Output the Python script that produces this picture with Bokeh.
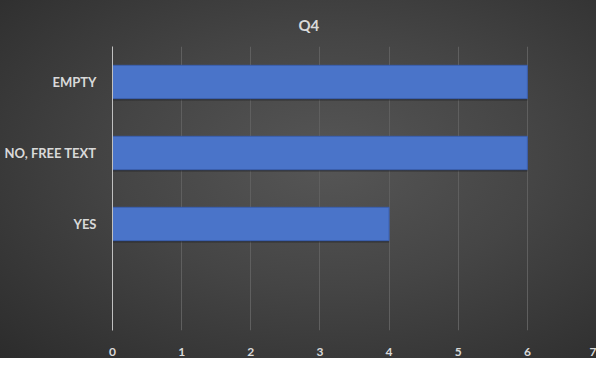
from bokeh.plotting import figure
from bokeh.models import FactorRange, Range1d, ColumnDataSource, Title, FixedTicker, InlineStyleSheet
from bokeh.transform import dodge
from bokeh.embed import file_html
from bokeh.resources import INLINE

# data
categories = [" ", "YES", "NO, FREE TEXT", "EMPTY"]   # bottom to top
values = [0, 4, 6, 6]
x_ticks = [0, 1, 2, 3, 4, 5, 6, 7]
title_text = "Q4"

src = ColumnDataSource(dict(cat=categories, val=values))

p = figure(width=596, height=358, output_backend="svg", toolbar_location=None,
           y_range=FactorRange(factors=categories), x_range=Range1d(0, 7),
           min_border_left=112, min_border_right=0, min_border_top=45, min_border_bottom=25)

p.stylesheets = [InlineStyleSheet(css=":host { background: radial-gradient(ellipse at 55% 45%, #565656 0%, #454545 45%, #2c2c2c 100%); }")]
p.border_fill_color = None
p.background_fill_color = None
p.outline_line_color = None

t = Title(text=title_text, align="left", offset=186, text_color="#d9d9d9",
          text_font="Lato", text_font_size="15px", text_font_style="bold", standoff=26)
p.title = t

# soft shadow under bars
p.hbar(y=dodge("cat", -0.025, range=p.y_range), right="val", height=0.47, left=0, source=src,
       fill_color="#1e1e1e", fill_alpha=0.55, line_color=None)
p.hbar(y="cat", right="val", height=0.47, left=0, source=src,
       fill_color="#4a74c9", line_color="#3a5fae", line_width=1)

p.xaxis.ticker = FixedTicker(ticks=x_ticks)
p.xaxis.axis_line_color = None
p.xaxis.major_tick_line_color = None
p.xaxis.minor_tick_line_color = None
p.xaxis.major_tick_out = 0
p.xaxis.major_label_standoff = 17
p.xaxis.major_label_text_color = "#d9d9d9"
p.xaxis.major_label_text_font = "Lato"
p.xaxis.major_label_text_font_style = "bold"
p.xaxis.major_label_text_font_size = "12px"

p.yaxis.axis_line_color = "#c0c0c0"
p.yaxis.axis_line_width = 1
p.yaxis.major_tick_line_color = None
p.yaxis.minor_tick_line_color = None
p.yaxis.major_tick_out = 0
p.yaxis.major_label_standoff = 16
p.yaxis.major_label_text_color = "#d9d9d9"
p.yaxis.major_label_text_font = "Lato"
p.yaxis.major_label_text_font_style = "bold"
p.yaxis.major_label_text_font_size = "13px"

p.xgrid.grid_line_color = "#5f5f5f"
p.xgrid.grid_line_width = 1
p.ygrid.grid_line_color = None

open("out.html", "w").write(file_html(p, INLINE))
